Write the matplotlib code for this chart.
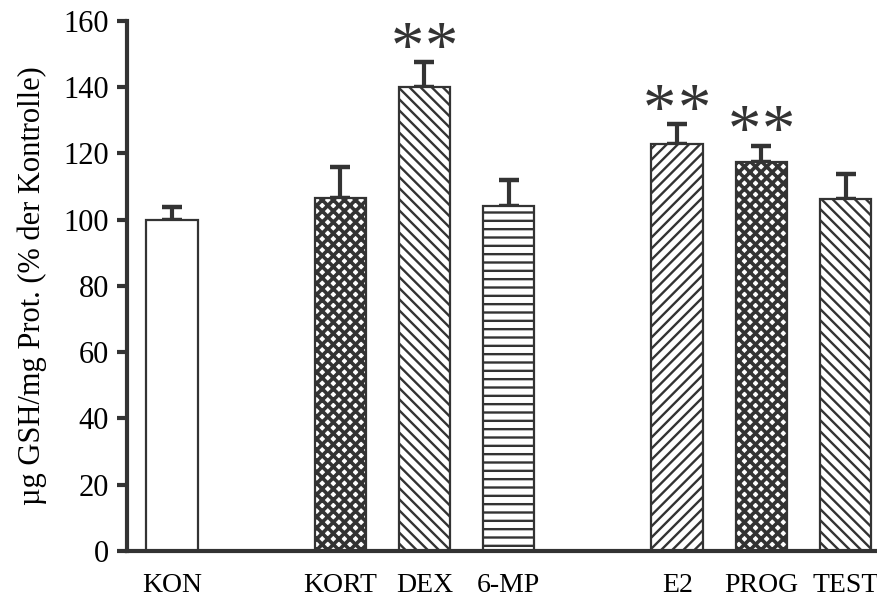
import matplotlib
matplotlib.use("Agg")
import matplotlib.pyplot as plt

categories = ["KON", "KORT", "DEX", "6-MP", "E2", "PROG", "TEST"]
positions = [0, 2, 3, 4, 6, 7, 8]
values = [100, 106.5, 140, 104, 122.8, 117.5, 106.2]
errors = [3.8, 9.5, 7.6, 8.0, 6.0, 4.9, 7.5]
hatches = [None, "xxx", "\\\\\\", "--", "///", "xxx", "\\\\\\"]
significance = ["", "", "**", "", "**", "**", ""]
yticks = [0, 20, 40, 60, 80, 100, 120, 140, 160]

plt.rcParams["font.family"] = ["Liberation Serif", "DejaVu Serif"]
plt.rcParams["hatch.color"] = "#333333"

fig = plt.figure(figsize=(8.78, 6.05), dpi=100)
ax = fig.add_axes([0.1446, 0.0893, 0.8554, 0.876])

dark = "#333333"
for p, v, e, h in zip(positions, values, errors, hatches):
    hlw = 2.6 if h == "xxx" else 1.7
    with plt.rc_context({"hatch.linewidth": hlw}):
        bars = ax.bar(p, v, width=0.61, color="white", edgecolor=dark,
                      linewidth=1.6, hatch=h, zorder=2)
        for b in bars:
            if hasattr(b, "set_hatch_linewidth"):
                b.set_hatch_linewidth(hlw)
    ax.errorbar(p, v, yerr=[[0], [e]], fmt="none", ecolor=dark,
                elinewidth=3, capsize=7.5, capthick=3.2, zorder=1)

for p, v, e, s in zip(positions, values, errors, significance):
    if s:
        n = len(s)
        for i, ch in enumerate(s):
            dx = (i - (n - 1) / 2) * 24.8
            ax.annotate(ch, xy=(p, v + e + 7), xytext=(dx, -20),
                        textcoords="offset points", ha="center",
                        va="baseline", fontsize=48, color=dark)

ax.set_xlim(-0.533, 8.385)
ax.set_ylim(0, 160)
ax.set_yticks(yticks)
ax.set_xticks(positions)
ax.set_xticklabels(categories)
ax.tick_params(axis="x", length=0, pad=16, labelsize=20)
ax.tick_params(axis="y", length=7, width=3, labelsize=22, color=dark, pad=6)
for side in ["top", "right"]:
    ax.spines[side].set_visible(False)
for side in ["left", "bottom"]:
    ax.spines[side].set_linewidth(3)
    ax.spines[side].set_color(dark)
ax.set_ylabel("\u00b5g GSH/mg Prot. (% der Kontrolle)", fontsize=22, labelpad=12)

fig.savefig("out.png", dpi=100)
